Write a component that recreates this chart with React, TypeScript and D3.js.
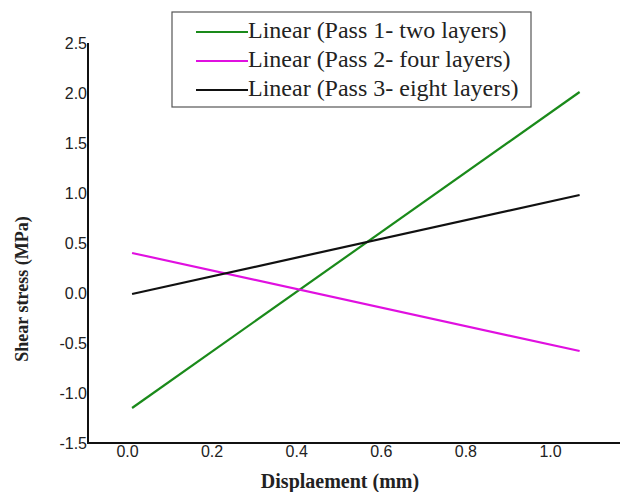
import React, { useRef, useEffect } from "react";
import * as d3 from "d3";

// values
const seriesNames = [
  "Linear (Pass 1- two layers)",
  "Linear (Pass 2- four layers)",
  "Linear (Pass 3- eight layers)",
];
const seriesColors = ["#1a8a1a", "#e010e0", "#111111"];
const displacement = [0.012, 1.07];
const pass1 = [-1.15, 2.01];
const pass2 = [0.4, -0.58];
const pass3 = [-0.01, 0.98];
const xTicks = [0, 0.2, 0.4, 0.6, 0.8, 1.0];
const yTicks = [-1.5, -1.0, -0.5, 0, 0.5, 1.0, 1.5, 2.0, 2.5];

const W = 624;
const H = 492;

// hyphen instead of unicode minus, like the original
const fmt = (d: number) => d3.format(".1f")(d).replace("\u2212", "-");

const ShearChart = () => {
  const ref = useRef<SVGSVGElement | null>(null);

  useEffect(() => {
    const svg = d3.select(ref.current);
    svg.selectAll("*").remove();

    const left = 88, right = 620, bottom = 443, top = 43;
    const x = d3.scaleLinear().domain([0, 1]).range([127, 550]);
    const y = d3.scaleLinear().domain([-1.5, 2.5]).range([bottom, top]);

    // axes (no tick marks, just labels)
    const yAxis = svg.append("g")
      .attr("transform", `translate(${left},0)`)
      .call(d3.axisLeft(y).tickValues(yTicks).tickSize(0).tickPadding(1)
        .tickFormat(d => fmt(d as number)));
    yAxis.select(".domain").remove();
    yAxis.selectAll("text")
      .style("font-family", "'Liberation Sans', Arial, sans-serif")
      .style("font-size", "16px")
      .attr("fill", "#222");

    const xAxis = svg.append("g")
      .attr("transform", `translate(0,${bottom})`)
      .call(d3.axisBottom(x).tickValues(xTicks).tickSize(0).tickPadding(3)
        .tickFormat(d => fmt(d as number)));
    xAxis.select(".domain").remove();
    xAxis.selectAll("text")
      .style("font-family", "'Liberation Sans', Arial, sans-serif")
      .style("font-size", "16px")
      .attr("fill", "#222");

    svg.append("line")
      .attr("x1", left).attr("x2", left).attr("y1", top).attr("y2", bottom)
      .attr("stroke", "#111").attr("stroke-width", 2);
    svg.append("line")
      .attr("x1", left - 1).attr("x2", right).attr("y1", bottom).attr("y2", bottom)
      .attr("stroke", "#111").attr("stroke-width", 2);

    // fit lines
    const all = [pass1, pass2, pass3];
    const line = d3.line<number>()
      .x((_, i) => x(displacement[i]))
      .y(d => y(d));
    all.forEach((s, i) => {
      svg.append("path")
        .datum(s)
        .attr("d", line)
        .attr("fill", "none")
        .attr("stroke", seriesColors[i])
        .attr("stroke-width", 2.2);
    });

    // axis titles
    svg.append("text")
      .attr("transform", `translate(24,289) rotate(-90)`)
      .attr("text-anchor", "middle")
      .attr("dominant-baseline", "middle")
      .style("font-family", "'Liberation Serif', 'Times New Roman', serif")
      .style("font-weight", "bold")
      .style("font-size", "18px")
      .attr("fill", "#222")
      .text("Shear stress (MPa)");
    svg.append("text")
      .attr("x", 340).attr("y", 488)
      .attr("text-anchor", "middle")
      .style("font-family", "'Liberation Serif', 'Times New Roman', serif")
      .style("font-weight", "bold")
      .style("font-size", "20px")
      .attr("fill", "#222")
      .text("Displaement (mm)");

    // legend
    const lg = svg.append("g");
    lg.append("rect")
      .attr("x", 172).attr("y", 12).attr("width", 359).attr("height", 95)
      .attr("fill", "white").attr("stroke", "#555").attr("stroke-width", 1.2);
    const rows = [32, 61, 90];
    seriesNames.forEach((name, i) => {
      lg.append("line")
        .attr("x1", 196).attr("x2", 248).attr("y1", rows[i]).attr("y2", rows[i])
        .attr("stroke", seriesColors[i]).attr("stroke-width", 2);
      lg.append("text")
        .attr("x", 248).attr("y", rows[i])
        .attr("dominant-baseline", "middle")
        .style("font-family", "'Liberation Serif', 'Times New Roman', serif")
        .style("font-size", "24px")
        .attr("fill", "#222")
        .text(name);
    });
  }, []);

  return (
    <svg
      ref={ref}
      width={W}
      height={H}
      style={{ position: "absolute", left: 0, top: 0, background: "white" }}
    />
  );
};

export default function App() {
  return <ShearChart />;
}
